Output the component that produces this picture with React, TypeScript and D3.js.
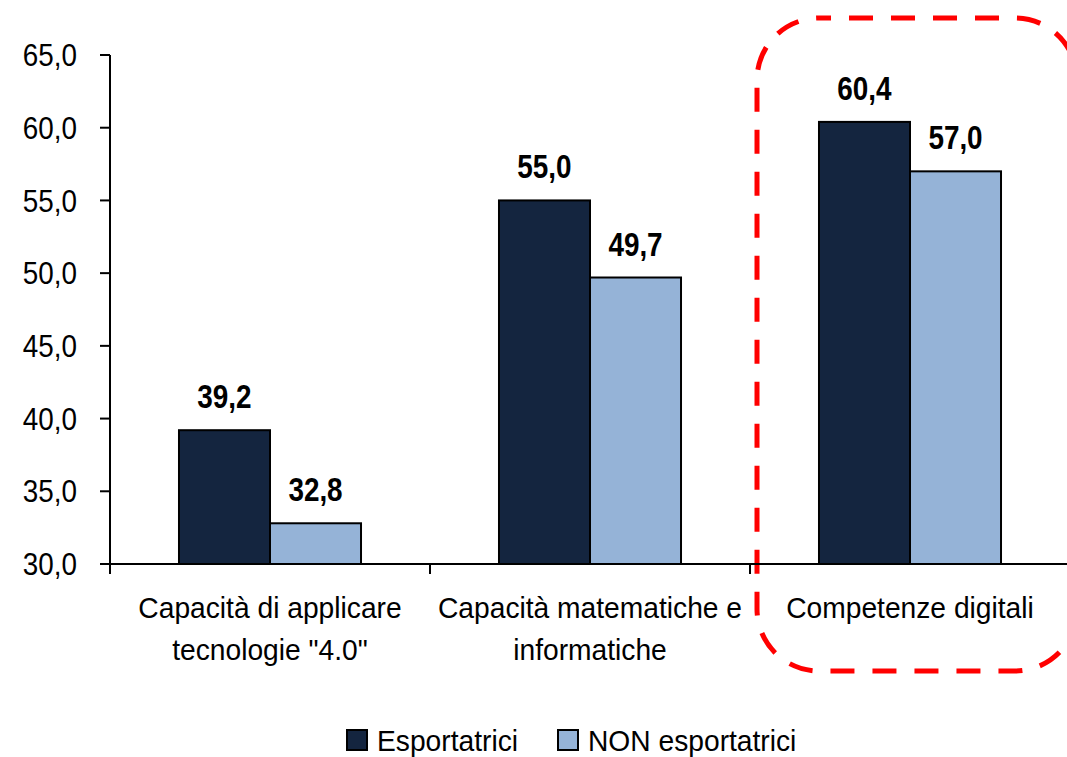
import React, { useEffect, useRef } from 'react';
import * as d3 from 'd3';

const CATEGORIES = ['Capacità di applicare tecnologie "4.0"', 'Capacità matematiche e informatiche', 'Competenze digitali'];
const CATEGORY_LINES = [['Capacità di applicare', 'tecnologie "4.0"'], ['Capacità matematiche e', 'informatiche'], ['Competenze digitali']];
const SERIES = ['Esportatrici', 'NON esportatrici'];
const ESPORTATRICI = [39.2, 55.0, 60.4];
const NON_ESPORTATRICI = [32.8, 49.7, 57.0];
const Y_TICKS = [30, 35, 40, 45, 50, 55, 60, 65];
const HIGHLIGHT = 'Competenze digitali';

const COLORS = { 'Esportatrici': '#14253f', 'NON esportatrici': '#95b3d7' };

export default function App() {
  const svgRef = useRef(null);

  const W = 1067;
  const H = 757;
  const MARGIN = { top: 55, right: -3, bottom: 193, left: 110 };
  const FONT = '"Liberation Sans", Arial, sans-serif';
  const NARROW_SCALE = 0.87; // the original uses a condensed face for numbers

  useEffect(() => {
    const svg = d3.select(svgRef.current);
    svg.selectAll('*').remove();

    const x0 = d3.scaleBand().domain(CATEGORIES).range([MARGIN.left, W - MARGIN.right]).padding(0);
    const x1 = d3.scaleBand().domain(SERIES).range([0, x0.bandwidth()]).paddingInner(0).paddingOuter(0.758);
    const y = d3.scaleLinear().domain([30, 65]).range([H - MARGIN.bottom, MARGIN.top]);
    const fmt = (v: number) => d3.format('.1f')(v).replace('.', ',');

    const values: Record<string, number[]> = { 'Esportatrici': ESPORTATRICI, 'NON esportatrici': NON_ESPORTATRICI };

    // highlight box around the last category
    const hx = x0(HIGHLIGHT) as number;
    svg.append('rect')
      .attr('x', hx + 7)
      .attr('y', 18)
      .attr('width', x0.bandwidth())
      .attr('height', 653)
      .attr('rx', 62)
      .attr('fill', 'none')
      .attr('stroke', '#ff0000')
      .attr('stroke-width', 5)
      .attr('stroke-dasharray', '24 18')
      .attr('stroke-dashoffset', -30);

    // bars
    CATEGORIES.forEach((cat, i) => {
      SERIES.forEach(s => {
        const v = values[s][i];
        const bx = (x0(cat) as number) + (x1(s) as number);
        svg.append('rect')
          .attr('x', bx)
          .attr('y', y(v))
          .attr('width', x1.bandwidth())
          .attr('height', y(30) - y(v))
          .attr('fill', COLORS[s])
          .attr('stroke', '#000')
          .attr('stroke-width', 2);
        svg.append('text')
          .attr('transform', `translate(${bx + x1.bandwidth() / 2},${y(v) - 22}) scale(0.82,1)`)
          .attr('text-anchor', 'middle')
          .style('font-family', FONT)
          .style('font-weight', '700')
          .style('font-size', '34px')
          .style('fill', '#000')
          .text(fmt(v));
      });
    });

    // y axis
    svg.append('line')
      .attr('x1', MARGIN.left).attr('x2', MARGIN.left)
      .attr('y1', y(65)).attr('y2', y(30))
      .attr('stroke', '#000').attr('stroke-width', 2);
    Y_TICKS.forEach(t => {
      svg.append('line')
        .attr('x1', MARGIN.left - 10).attr('x2', MARGIN.left)
        .attr('y1', y(t)).attr('y2', y(t))
        .attr('stroke', '#000').attr('stroke-width', 2);
      svg.append('text')
        .attr('transform', `translate(77,${y(t)}) scale(${NARROW_SCALE},1)`)
        .attr('text-anchor', 'end')
        .attr('dominant-baseline', 'central')
        .style('font-family', FONT)
        .style('font-size', '32px')
        .style('fill', '#000')
        .text(fmt(t));
    });

    // x axis
    svg.append('line')
      .attr('x1', MARGIN.left).attr('x2', W)
      .attr('y1', y(30)).attr('y2', y(30))
      .attr('stroke', '#000').attr('stroke-width', 2);
    CATEGORIES.forEach(cat => {
      const bx = x0(cat) as number;
      svg.append('line')
        .attr('x1', bx).attr('x2', bx)
        .attr('y1', y(30)).attr('y2', y(30) + 10)
        .attr('stroke', '#000').attr('stroke-width', 2);
    });
    CATEGORIES.forEach((cat, i) => {
      const cx = (x0(cat) as number) + x0.bandwidth() / 2;
      CATEGORY_LINES[i].forEach((line, j) => {
        svg.append('text')
          .attr('transform', `translate(${cx},${618 + j * 42}) scale(0.94,1)`)
          .attr('text-anchor', 'middle')
          .style('font-family', FONT)
          .style('font-size', '30px')
          .style('fill', '#000')
          .text(line);
      });
    });

    // legend
    const legendX = [347, 558];
    SERIES.forEach((s, i) => {
      svg.append('rect')
        .attr('x', legendX[i]).attr('y', 730)
        .attr('width', 20).attr('height', 20)
        .attr('fill', COLORS[s])
        .attr('stroke', '#000').attr('stroke-width', 2);
      svg.append('text')
        .attr('transform', `translate(${legendX[i] + 30},751) scale(0.94,1)`)
        .style('font-family', FONT)
        .style('font-size', '30px')
        .style('fill', '#000')
        .text(s);
    });
  }, []);

  return (
    <svg ref={svgRef} width={W} height={H} style={{ position: 'absolute', left: 0, top: 0, background: '#fff' }} />
  );
}
